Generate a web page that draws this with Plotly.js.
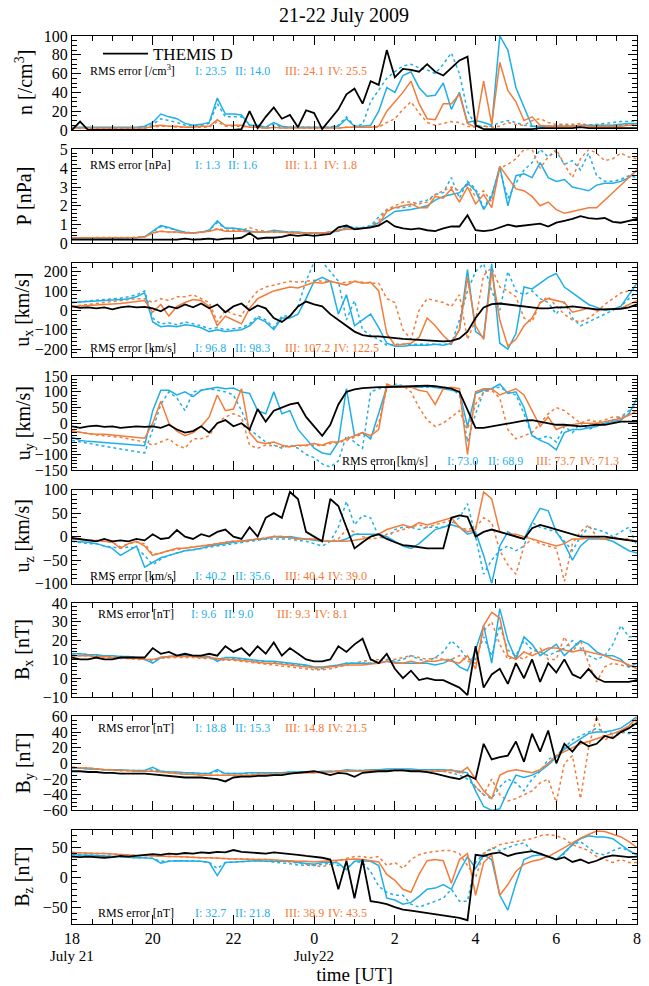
<!DOCTYPE html>
<html><head><meta charset="utf-8">
<script src="https://cdn.plot.ly/plotly-3.0.1.min.js"></script>
<style>html,body{margin:0;padding:0;background:#fff}#chart{width:649px;height:986px}</style>
</head><body><div id="chart"></div>
<script>
// time in hours after 18:00 UT on 21 July 2009
const hours = [0,0.2,0.4,0.6,0.8,1,1.2,1.4,1.6,1.8,2,2.2,2.4,2.6,2.8,3,3.2,3.4,3.6,3.8,4,4.2,4.4,4.6,4.8,5,5.2,5.4,5.6,5.8,6,6.2,6.4,6.6,6.8,7,7.2,7.4,7.6,7.8,8,8.2,8.4,8.6,8.8,9,9.2,9.4,9.6,9.8,10,10.2,10.4,10.6,10.8,11,11.2,11.4,11.6,11.8,12,12.2,12.4,12.6,12.8,13,13.2,13.4,13.6,13.8,14];
const xTickVals = [0,2,4,6,8,10,12,14];
const xTickText = ['18','20','22','0','2','4','6','8'];
const dateVals = [0,6];
const dateText = ['July 21','July22'];
const seriesNames = ['THEMIS D','I','II','III','IV'];

// n [/cm3]
const nTHEMIS = [0,9,0,0,0,0,0,0,0,0, 0,0,0,0,0,0,0,0,0,0, 0,1,20,2,14,24,12,16,3,21, 18,1,12,22,38,44,28,52,48,85, 56,65,64,62,70,62,58,66,74,78, 5,1,1,1,1,1,1,1,2,2, 2,2,2,3,2,2,2,2,2,2, 2];
const nI = [3,3,3,3,3,3,3,3,3,4, 8,17,14,12,7,5,6,8,34,17, 17,16,5,5,3,8,4,3,3,3, 3,3,3,4,12,4,4,5,20,45, 40,58,62,45,36,37,50,22,40,8, 10,8,5,100,85,45,25,4,4,4, 4,4,4,5,5,5,5,5,6,7, 7];
const nII = [2,2,2,2,2,2,2,2,2,3, 6,12,10,8,5,4,5,7,28,14, 14,14,5,4,3,6,3,3,3,3, 3,3,3,5,14,4,6,30,42,55, 62,68,70,66,64,60,70,82,60,20, 5,4,4,8,10,8,5,4,3,4, 5,5,5,4,5,6,7,8,9,9, 10];
const nIII = [2,2,2,2,2,2,2,2,2,2, 4,5,4,4,3,3,4,4,11,5, 5,5,3,3,2,3,2,2,2,2, 2,2,2,2,3,3,3,3,4,20, 30,40,52,28,12,11,28,28,38,7, 3,52,6,72,42,30,10,14,5,4, 4,4,4,5,4,4,4,4,4,5, 5];
const nIV = [2,2,2,2,2,2,2,2,2,2, 3,4,4,3,3,3,3,3,9,4, 4,4,3,3,2,3,2,2,2,2, 2,2,2,2,3,3,3,3,3,8, 12,22,30,18,8,5,7,9,8,4, 3,4,3,4,8,6,5,10,12,8, 6,6,6,7,5,5,5,5,5,6, 6];

// P [nPa]
const pTHEMIS = [0.2,0.2,0.2,0.2,0.2,0.2,0.2,0.2,0.2,0.2, 0.2,0.2,0.22,0.2,0.25,0.2,0.22,0.25,0.2,0.25, 0.25,0.3,0.55,0.25,0.3,0.3,0.35,0.45,0.4,0.45, 0.4,0.45,0.5,0.85,0.95,0.75,0.8,0.85,0.95,1.2, 0.9,0.8,0.75,0.8,0.7,0.65,0.8,0.9,0.9,1.5, 0.7,0.65,0.7,0.85,1.0,0.9,0.95,1.0,1.05,0.9, 1.1,1.2,1.3,1.45,1.35,1.3,1.35,1.15,1.1,1.2, 1.3];
const pI = [0.25,0.25,0.25,0.25,0.25,0.25,0.28,0.3,0.3,0.35, 0.65,0.95,0.85,0.7,0.6,0.55,0.6,0.7,1.2,0.8, 0.8,0.75,0.65,0.6,0.6,0.7,0.65,0.6,0.6,0.55, 0.55,0.55,0.6,0.65,0.85,0.8,0.8,0.9,1.1,1.4, 1.7,1.75,1.8,1.9,2.0,2.3,2.5,2.6,2.7,3.2, 2.8,1.8,2.5,4.1,2.0,3.6,3.7,3.5,4.3,3.5, 3.3,3.4,3.0,2.9,2.8,3.1,3.2,3.2,3.3,3.5, 3.9];
const pII = [0.22,0.22,0.22,0.22,0.22,0.22,0.25,0.28,0.3,0.35, 0.6,0.9,0.8,0.7,0.6,0.55,0.6,0.7,1.1,0.8, 0.8,0.75,0.65,0.6,0.6,0.65,0.6,0.6,0.55,0.55, 0.55,0.55,0.6,0.7,0.9,0.85,0.85,0.95,1.4,1.8, 1.9,1.9,2.0,2.2,2.3,2.6,2.7,3.5,2.4,3.3, 2.9,1.9,2.6,3.9,2.4,3.2,3.9,4.3,5.0,4.6, 4.9,4.2,4.4,3.9,4.8,3.6,3.3,3.3,3.4,3.6, 3.5];
const pIII = [0.3,0.3,0.3,0.3,0.3,0.3,0.3,0.3,0.32,0.35, 0.55,0.65,0.6,0.6,0.55,0.55,0.6,0.65,0.75,0.65, 0.65,0.65,0.6,0.6,0.6,0.6,0.6,0.55,0.55,0.55, 0.55,0.55,0.6,0.7,0.75,0.75,0.8,0.85,1.0,1.7, 1.9,2.0,2.1,1.9,1.9,2.5,2.4,2.9,2.2,3.0, 2.1,2.6,1.9,4.1,3.5,2.9,2.8,2.5,2.0,2.2, 1.8,1.6,1.7,1.8,1.9,1.9,2.3,2.7,3.1,3.5, 3.9];
const pIV = [0.3,0.3,0.3,0.3,0.3,0.3,0.3,0.3,0.32,0.35, 0.55,0.65,0.6,0.6,0.55,0.55,0.6,0.65,0.8,0.7, 0.7,0.7,0.85,0.7,0.65,0.6,0.6,0.6,0.55,0.55, 0.55,0.55,0.6,0.7,0.75,0.75,0.8,0.9,1.2,1.8, 2.0,2.2,2.2,2.1,2.2,2.6,2.8,3.0,2.8,3.1, 2.5,2.8,2.2,4.0,4.2,4.5,5.0,5.0,4.0,4.6, 5.0,4.2,3.5,4.5,5.0,4.8,4.4,4.5,4.8,4.6, 4.5];

// ux [km/s]
const uxTHEMIS = [20,12,15,10,15,5,15,20,15,18, 10,-5,20,10,30,15,35,10,30,-10, 20,35,0,25,10,-40,-60,-30,20,45, 30,20,-20,-50,-80,-110,-128,-135,-135,-140, -145,-148,-150,-152,-155,-158,-160,-158,-145,-110, -40,15,32,35,30,25,20,15,10,10, 15,15,20,15,10,5,5,5,8,15, 30];
const uxI = [40,42,45,48,50,52,55,60,70,90, -60,-85,-80,-85,-75,-80,-90,-110,-100,-110, -105,-100,-80,-40,-60,-100,-40,-40,-20,60, 150,170,150,-20,80,-80,-50,-20,-90,-170, -185,-185,-180,-180,-180,-175,-180,-170,-100,210, -110,-140,240,-170,-200,-120,120,110,140,170, 190,120,90,60,30,15,0,5,20,80, 140];
const uxII = [40,45,48,52,55,58,62,70,80,100, -40,-70,-65,-75,-60,-70,-80,-95,-90,-100, -95,-90,-70,-30,-50,-90,-30,-30,20,150, 250,250,200,150,-50,50,-100,-130,-150,-180, -175,-175,-175,-175,-175,-175,-178,-175,-50,100, 200,240,100,0,200,100,80,100,60,40, -20,40,-40,-80,-60,-40,-20,0,20,60, 100];
const uxIII = [20,22,25,28,30,32,35,40,45,50, -10,30,-30,20,40,55,50,20,-80,-30, -50,-70,10,60,80,100,110,120,115,130, 145,140,150,140,130,150,140,145,100,-120, -180,-175,-170,-140,-40,-80,-130,-170,-100,170, -80,-150,200,-50,-185,-150,-80,-40,40,60, 50,40,-10,0,10,0,5,5,10,30, 50];
const uxIV = [20,25,30,35,40,45,50,55,60,60, 40,60,50,70,70,80,60,40,-60,0, -20,-30,50,100,120,130,140,150,145,150, 155,150,150,140,145,150,145,140,140,60, 40,-100,-150,0,60,50,40,20,80,-150, -50,180,220,120,100,70,-40,-60,40,70, 20,-20,-50,-60,-40,-10,30,60,90,100, 110];

// uy [km/s]
const uyTHEMIS = [-10,-15,-10,-8,-12,-10,-15,-12,-10,-12, -10,-15,-5,-20,-30,-25,-10,-30,0,10, -10,0,-20,45,5,40,50,60,65,20, -10,-40,-5,60,100,108,112,114,115,115, 117,117,118,120,120,118,115,110,100,40, -15,-15,-10,-5,0,5,8,10,5,0, -5,-5,-8,-10,-8,-5,-5,0,5,5, 5];
const uyI = [-45,-55,-58,-60,-62,-63,-65,-68,-70,-72, 40,105,105,90,100,85,105,110,115,110, 112,100,95,40,30,100,30,40,-20,-50, -80,-95,-100,-60,110,-40,-30,-50,30,115, 120,118,118,115,118,115,110,105,100,-10, 95,105,110,125,95,100,50,-40,-55,-65, -85,-30,-20,-20,-15,-10,0,5,10,30, 80];
const uyII = [-55,-60,-65,-70,-75,-78,-82,-86,-90,-95, -20,60,100,80,40,100,105,110,105,100, 90,40,-20,-40,-60,-70,-80,-70,-80,-100, -110,-130,-140,-120,-40,-60,-80,100,110,115, 115,115,115,115,115,115,115,112,90,-60, 30,100,110,115,100,90,30,-40,-50,-40, -60,-10,-30,0,-20,-10,0,10,20,40, 60];
const uyIII = [-25,-30,-33,-35,-35,-38,-40,-42,-45,-48, 0,70,0,-25,-40,-30,-10,20,90,40, 45,110,-30,-60,-65,-60,-70,-75,-70,-70, -65,-70,-60,-60,-50,-40,-30,-40,-20,125, 115,115,115,105,100,60,110,115,110,-100, 100,110,110,90,100,110,90,40,-10,20, -20,-10,-5,0,0,0,5,10,15,25, 40];
const uyIV = [-25,-30,-35,-38,-40,-42,-45,-50,-55,-60, -70,-60,-50,-70,-80,-50,-50,-40,0,20, 30,20,-70,-80,-70,-72,-75,-75,-72,-72, -70,-72,-65,-62,-55,-45,-35,-40,0,110, 125,120,100,50,10,-10,0,20,40,-20, 60,100,105,80,-20,-50,-40,-30,0,30, 50,40,20,0,10,5,10,20,20,30, 40];

// uz [km/s]
const uzTHEMIS = [-3,-5,-8,-10,-5,-10,-8,-10,-5,-8, 5,-5,-3,14,0,-5,5,0,10,15, 0,-5,20,0,40,50,40,95,80,10, 0,-10,80,65,20,-25,-12,0,5,-5, -12,-18,-20,-22,-25,-25,-25,40,45,42, 0,10,15,10,5,0,-5,18,25,20, 15,10,5,0,0,0,0,-3,-5,-8, -10];
const uzI = [-10,-11,-12,-15,-20,-25,-40,-30,-20,-65, -55,-45,-40,-35,-30,-28,-25,-20,-18,-15, -12,-10,-8,-5,-5,0,-2,0,-3,-5, -8,-10,-10,-10,-5,5,5,5,5,0, -10,-20,-25,-15,0,15,20,25,20,5, 10,-40,-100,-20,10,0,-5,30,60,55, 10,-15,-50,-20,-5,-5,-5,-10,-20,-30, -35];
const uzII = [-10,-12,-15,-15,-20,-22,-25,-22,-25,-40, -60,-48,-40,-35,-30,-28,-25,-22,-20,-18, -15,-12,-10,-8,-5,-5,-5,-5,-8,-10, -15,-20,-10,20,75,25,45,40,0,-5, 15,20,20,15,20,20,20,28,40,70, 0,-80,-50,-30,-20,-30,-20,30,20,15, 10,-10,-30,0,20,15,10,0,10,20, -20];
const uzIII = [-5,-6,-8,-9,-10,-12,-25,-15,-10,-20, -40,-35,-30,-25,-25,-22,-20,-18,-15,-12, -10,-10,-8,-5,-3,0,0,-2,-5,-5, -5,-10,-10,-10,-10,-8,-5,0,5,15, 20,25,20,30,25,30,35,40,20,10, 15,95,80,10,5,5,0,-5,-10,-15, -20,-15,-5,-5,-3,-3,-5,-3,-5,-8, -10];
const uzIV = [-5,-5,-8,-8,-10,-12,-22,-15,-12,-15, -38,-35,-30,-28,-25,-22,-20,-18,-15,-12, -10,-10,-8,-5,-3,0,0,-2,-5,-5, -5,-8,-10,-5,15,10,0,-5,-3,5, 10,15,20,25,20,25,30,35,20,15, 20,40,30,-30,-60,-80,-20,-5,-15,-20, -25,-95,-15,10,25,0,-5,0,-5,-5, -10];

// Bx [nT]
const bxTHEMIS = [11,10,10,11,10,10,11,11,11,11, 16,13,14,12,13,12,12,13,12,17, 14,16,12,17,13,19,12,16,13,10, 9,9,10,17,14,18,21,10,8,13, 5,0,4,-1,0,-1,-1,-3,-5,-9, 17,-5,2,5,-3,8,0,10,-2,8, 3,10,2,0,5,0,-2,-2,-2,-2, -1];
const bxI = [13,13,12.5,12.5,12,12,11.5,11.5,11,10, 8,11,11.5,12,12,12,11.5,11.5,9,11, 11,10.5,10,9.5,9,9,8.5,8,7.5,7, 6,6,6.5,7,8,8,8,8,8,9, 8.5,8,8,8,8,7,8,10,6,4, 15,28,8,37,20,10,22,18,12,15, 18,12,16,20,18,14,12,12,10,6, 8];
const bxII = [13,13,12.5,12,12,11.5,11.5,11,11,10, 9,11,11,11.5,12,11.5,11,11,10,11, 10.5,10,10,9,9,8.5,8,7.5,7,6.5, 5,5,6,7,8,8,8,8,9,10, 9,10,12,10,9,11,14,20,16,10, 10,22,12,28,15,12,20,15,14,12, 14,16,20,16,12,10,12,18,28,22, 22];
const bxIII = [12,12,12,11.5,11.5,11,11,10.5,10.5,10, 10,11,11.5,11.5,11.5,11.5,11,11,10.5,10, 10,9.5,9,8.5,8,8,7.5,7,6.5,6, 5.5,5.5,6,6.5,7,7,7,7.5,8,9, 8,8,9,8,9,9,10,9,8,12, 5,28,35,32,12,10,14,12,14,16, 16,15,14,15,14,13,12,10,9,7, 5];
const bxIV = [12,12,12,11.5,11,11,10.5,10.5,10,10, 10,10.5,11,11,11,11,10.5,10.5,10,9.5, 9.5,9,8.5,8,7.5,7,6.5,6,5.5,5, 4.5,4.5,5,6,7,8,9,9.5,10,11, 10,11,12,11,10,11,10,10,12,9, 8,25,30,18,10,12,10,14,16,10, 10,22,14,20,8,-2,6,8,7,6, 6];

// By [nT]
const byTHEMIS = [-10,-10,-11,-11,-12,-12,-13,-13,-13,-13, -14,-15,-16,-17,-18,-18,-18,-19,-20,-23, -18,-17,-17,-16,-16,-15,-15,-13,-12,-11, -10,-12,-15,-12,-13,-17,-12,-11,-10,-10, -9,-9,-10,-10,-11,-13,-16,-18,-20,-15, -20,25,5,8,10,28,2,38,15,42, 0,25,15,28,22,25,35,32,40,45, 52];
const byI = [-6,-6,-7,-7,-8,-8,-8,-9,-9,-9, -5,-10,-11,-11,-12,-12,-13,-13,-8,-13, -13,-13,-12,-12,-12,-12,-12,-11,-11,-11, -11,-10,-10,-10,-8,-9,-9,-8,-8,-7, -7,-7,-7,-8,-8,-8,-8,-9,-10,-12, -35,-55,-60,-58,-35,-15,-18,-15,-10,-2, 8,18,25,32,38,40,40,42,45,52, 60];
const byII = [-6,-6,-7,-7,-8,-8,-9,-9,-9,-10, -8,-10,-11,-12,-12,-13,-13,-13,-10,-13, -13,-13,-12,-12,-12,-12,-12,-11,-11,-11, -11,-11,-10,-10,-9,-9,-9,-9,-8,-8, -8,-8,-8,-8,-8,-9,-10,-12,-15,-20, -30,-40,-45,-30,-20,-25,-35,-20,-10,5, 10,20,30,35,40,45,40,38,40,38, 40];
const byIII = [-5,-6,-6,-7,-8,-8,-9,-9,-10,-10, -10,-11,-12,-13,-14,-14,-15,-15,-15,-15, -15,-15,-15,-14,-14,-14,-13,-13,-12,-12, -12,-11,-11,-10,-10,-10,-10,-9,-9,-9, -9,-9,-9,-9,-10,-10,-10,-8,-12,-5, -20,-35,-45,-15,-10,-8,-10,-12,-8,0, 10,15,20,25,28,32,35,38,42,48, 58];
const byIV = [-5,-6,-6,-7,-8,-8,-9,-9,-10,-10, -10,-11,-12,-13,-14,-14,-15,-15,-15,-15, -15,-15,-15,-14,-14,-14,-13,-13,-12,-12, -12,-11,-11,-10,-10,-10,-10,-9,-9,-9, -9,-9,-9,-9,-10,-10,-10,-12,-10,-15, -30,-40,-20,-40,-48,-45,-40,-35,-25,-20, -50,0,10,-45,20,60,30,35,38,45, 55];

// Bz [nT]
const bzTHEMIS = [35,34,35,34,33,34,36,35,36,37, 39,38,40,39,41,40,42,41,43,42, 46,43,42,41,40,42,41,40,38,36, 35,33,30,-20,28,-35,30,-40,-42,-45, -50,-54,-56,-58,-60,-62,-64,-66,-68,-72, 38,36,40,42,36,40,42,44,40,35, 30,34,26,30,24,28,34,37,36,34, 35];
const bzI = [38,38,37,37,36,35,35,34,33,33, 32,24,27,28,28,28,27,25,3,25, 26,27,28,28,27,27,28,27,25,23, 22,25,26,24,13,27,28,27,20,-35, -38,-45,-42,-32,-20,-18,-12,-20,10,35, 15,38,30,-30,-55,-10,30,36,38,35, 30,42,55,65,70,68,68,65,55,45, 38];
const bzII = [38,38,37,37,36,35,35,34,33,33, 32,27,28,28,28,28,27,25,15,25, 26,27,28,28,27,26,25,23,21,20, 20,22,24,20,15,27,25,10,-15,-25, -30,-30,-45,-50,-45,-40,-35,-20,-40,-40, 25,40,50,45,50,55,58,45,40,35, 30,40,55,60,50,40,38,45,50,45, 38];
const bzIII = [42,41,41,40,40,39,38,38,37,37, 36,36,35,35,34,34,33,33,32,32, 31,31,30,30,30,29,29,28,27,27, 26,27,28,29,30,31,30,28,26,5, -5,-20,-25,5,28,30,28,-10,30,40, -30,25,38,-30,-12,10,22,27,30,35, 42,50,58,66,72,78,77,73,68,60, 50];
const bzIV = [42,41,41,40,40,39,38,38,37,37, 36,36,35,35,34,34,33,33,32,32, 31,31,30,30,30,29,28,26,24,22, 20,18,22,28,32,35,35,33,35,20, 25,15,30,38,42,44,45,45,40,20, 0,40,48,55,58,60,62,65,70,72, 70,65,55,50,45,35,30,25,30,25, 25];

// panel labels and RMS error texts
const yTitles = ['n [/cm<sup>3</sup>]','P [nPa]','u<sub>x</sub> [km/s]','u<sub>y</sub> [km/s]','u<sub>z</sub> [km/s]','B<sub>x</sub> [nT]','B<sub>y</sub> [nT]','B<sub>z</sub> [nT]'];
const rmsLabels = ['RMS error [/cm<sup>3</sup>]','RMS error [nPa]','RMS error [km/s]','RMS error [km/s]','RMS error [km/s]','RMS error [nT]','RMS error [nT]','RMS error [nT]'];
const rmsI = ['23.5','1.3','96.8','73.0','40.2','9.6','18.8','32.7'];
const rmsII = ['14.0','1.6','98.3','68.9','35.6','9.0','15.3','21.8'];
const rmsIII = ['24.1','1.1','107.2','73.7','40.4','9.3','14.8','38.9'];
const rmsIV = ['25.5','1.8','122.5','71.3','39.0','8.1','21.5','43.5'];

const panelData = [
  [nTHEMIS,nI,nII,nIII,nIV],
  [pTHEMIS,pI,pII,pIII,pIV],
  [uxTHEMIS,uxI,uxII,uxIII,uxIV],
  [uyTHEMIS,uyI,uyII,uyIII,uyIV],
  [uzTHEMIS,uzI,uzII,uzIII,uzIV],
  [bxTHEMIS,bxI,bxII,bxIII,bxIV],
  [byTHEMIS,byI,byII,byIII,byIV],
  [bzTHEMIS,bzI,bzII,bzIII,bzIV]
];

// ---- styling / layout ----
const FONT = 'Liberation Serif, Times New Roman, serif';
const BLUE = '#1FAFE6', ORANGE = '#F27C3A';
const yRanges = [[0,100],[0,5],[-240,245],[-150,150],[-100,100],[-10,40],[-60,60],[-78,80]];
const yDticks = [20,1,100,50,50,10,20,50];
const yMinor = [5,0.2,20,10,10,2,5,10];
// [x of label, x of "I:", x of "II:", x of "III:", x of "IV:", y] in px
const rmsPos = [
  [88,193,233,283,326,71],[88,193,226,283,322,165],[88,193,233,283,332,348],[340,445,486,534,578,461],
  [88,193,233,283,326,576],[96,189,222,275,313,614],[96,193,233,283,326,728],[96,193,233,283,326,913]
];
const W=649,H=986, ML=72, MR=12, MT=36, MB=62;
const PW=W-ML-MR, PH=H-MT-MB;
const step=113.4, ph=94;

const traces=[]; const layout={
  width:W,height:H,margin:{l:ML,r:MR,t:MT,b:MB},
  paper_bgcolor:'#fff',plot_bgcolor:'#fff',
  font:{family:FONT,size:16,color:'#000'},
  title:{text:'21-22 July 2009',x:0.53,xanchor:'center',y:0.985,yanchor:'middle',font:{family:FONT,size:20,color:'#000'}},
  showlegend:true,
  legend:{x:0.046,y:1.0,xanchor:'left',yanchor:'top',bgcolor:'rgba(0,0,0,0)',font:{family:FONT,size:17,color:'#000'},itemwidth:45,tracegroupgap:0},
  hovermode:false,annotations:[]
};
function px2x(p){return (p-ML)/PW;}
function px2y(p){return (H-MB-p)/PH;}
for(let i=0;i<8;i++){
  const sfx = i===0?'':String(i+1);
  const xa='x'+sfx, ya='y'+sfx;
  const d=panelData[i];
  const order=[[2,BLUE,'dot',1.5],[4,ORANGE,'dot',1.5],[1,BLUE,'solid',1.5],[3,ORANGE,'solid',1.5],[0,'#000','solid',1.8]];
  order.forEach(([k,col,dash,w])=>{
    traces.push({x:hours,y:d[k],xaxis:xa,yaxis:ya,type:'scatter',mode:'lines',name:seriesNames[k],
      line:{color:col,dash:dash,width:w},showlegend:(i===0&&k===0)});
  });
  const top=step*i, bot=top+ph;
  const dom=[Math.max(0,1-bot/PH), Math.min(1,1-top/PH)];
  layout['yaxis'+sfx]={domain:dom,range:yRanges[i],dtick:yDticks[i],tick0:0,anchor:xa,
    showline:true,linecolor:'#000',linewidth:1,mirror:'allticks',ticks:'inside',ticklen:9,tickwidth:1,tickcolor:'#000',
    minor:{dtick:yMinor[i],ticks:'inside',ticklen:5,tickwidth:1,tickcolor:'#000'},
    showgrid:false,zeroline:false,tickfont:{family:FONT,size:16,color:'#000'},fixedrange:true};
  layout['xaxis'+sfx]={domain:[0,1],range:[0,14],anchor:ya,tickvals:xTickVals,ticktext:xTickText,showticklabels:i===7,
    showline:true,linecolor:'#000',linewidth:1,mirror:'allticks',ticks:'inside',ticklen:9,tickwidth:1,tickcolor:'#000',
    minor:{dtick:0.5,tick0:0,ticks:'inside',ticklen:5,tickwidth:1,tickcolor:'#000'},
    showgrid:false,zeroline:false,tickfont:{family:FONT,size:16,color:'#000'},fixedrange:true};
  if(i===7){
    layout['xaxis'+sfx].title={text:'time [UT]',font:{family:FONT,size:19,color:'#000'},standoff:21};
    dateVals.forEach((v,j)=>layout.annotations.push({text:dateText[j],xref:xa,yref:'paper',x:v,y:px2y(956),
      xanchor:'center',yanchor:'middle',showarrow:false,font:{family:FONT,size:15,color:'#000'}}));
  }
  layout.annotations.push({text:yTitles[i],xref:'paper',yref:'paper',x:px2x(24),y:(dom[0]+dom[1])/2,
    xanchor:'center',yanchor:'middle',textangle:-90,showarrow:false,font:{family:FONT,size:20,color:'#000'}});
  const rp=rmsPos[i]; const yy=px2y(rp[5]);
  const parts=[[rmsLabels[i],rp[0],'#000'],['I: '+rmsI[i],rp[1],BLUE],['II: '+rmsII[i],rp[2],BLUE],['III: '+rmsIII[i],rp[3],ORANGE],['IV: '+rmsIV[i],rp[4],ORANGE]];
  parts.forEach(([t,xp,c])=>layout.annotations.push({text:t,xref:'paper',yref:'paper',x:px2x(xp),y:yy,xanchor:'left',yanchor:'middle',showarrow:false,font:{family:FONT,size:12,color:c}}));
}
Plotly.newPlot('chart',traces,layout,{displayModeBar:false,staticPlot:true});
</script></body></html>
